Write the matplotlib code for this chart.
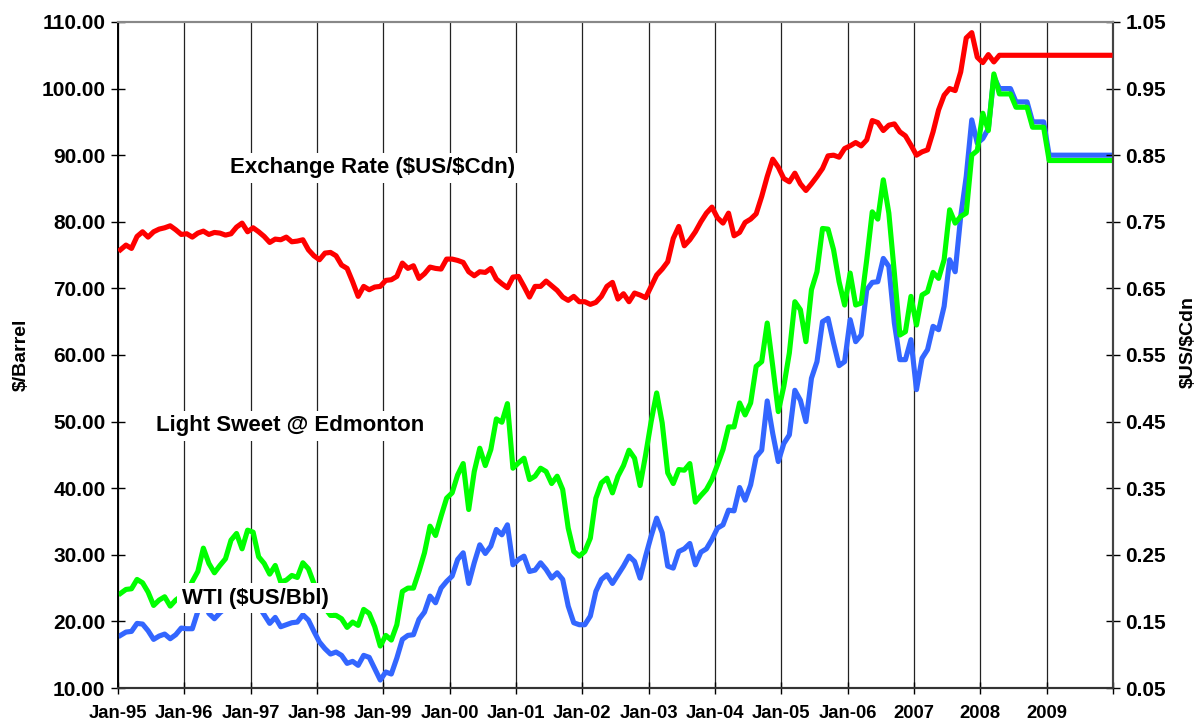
import matplotlib
matplotlib.use("Agg")
import matplotlib.pyplot as plt
import numpy as np

plt.rcParams['font.family'] = ['Liberation Sans', 'DejaVu Sans']
plt.rcParams['font.weight'] = 'bold'

# monthly values, Jan-95 .. Dec-09 (2008-2009 are quarterly forecast steps)
wti = [
    17.9, 18.4, 18.5, 19.7, 19.6, 18.6, 17.3, 17.8, 18.1, 17.4, 18.0, 19.0,   # 1995
    18.9, 18.9, 21.5, 23.5, 21.2, 20.4, 21.3, 22.0, 23.8, 24.8, 23.6, 25.0,   # 1996
    25.1, 22.3, 21.0, 19.7, 20.6, 19.2, 19.5, 19.8, 19.9, 21.0, 20.2, 18.5,   # 1997
    16.9, 15.9, 15.1, 15.4, 14.9, 13.7, 14.0, 13.4, 14.9, 14.6, 12.9, 11.2,   # 1998
    12.4, 12.1, 14.5, 17.3, 17.9, 18.0, 20.3, 21.4, 23.8, 22.8, 25.0, 26.0,   # 1999
    26.8, 29.3, 30.3, 25.7, 28.8, 31.5, 30.2, 31.3, 33.8, 33.0, 34.5, 28.5,   # 2000
    29.3, 29.8, 27.5, 27.7, 28.8, 27.8, 26.5, 27.3, 26.3, 22.3, 19.8, 19.5,   # 2001
    19.5, 20.8, 24.5, 26.3, 27.0, 25.7, 27.0, 28.3, 29.8, 29.0, 26.5, 29.8,   # 2002
    32.8, 35.5, 33.3, 28.3, 28.0, 30.5, 30.9, 31.7, 28.5, 30.4, 30.9, 32.3,   # 2003
    34.0, 34.5, 36.7, 36.6, 40.1, 38.2, 40.5, 44.7, 45.7, 53.1, 48.2, 44.0,   # 2004
    46.7, 48.0, 54.7, 53.2, 50.0, 56.5, 59.0, 65.0, 65.5, 61.8, 58.4, 59.0,   # 2005
    65.3, 62.0, 63.0, 69.8, 70.9, 71.0, 74.5, 73.3, 64.8, 59.3, 59.3, 62.3,   # 2006
    54.8, 59.5, 60.8, 64.3, 63.8, 67.3, 74.3, 72.5, 80.8, 86.8, 95.3, 91.8,   # 2007
    92.5, 94.0, 101.8, 100.0, 100.0, 100.0, 98.0, 98.0, 98.0, 95.0, 95.0, 95.0,  # 2008
    90.0, 90.0, 90.0, 90.0, 90.0, 90.0, 90.0, 90.0, 90.0, 90.0, 90.0, 90.0,   # 2009
]

light_sweet = [
    24.2, 24.8, 24.9, 26.3, 25.8, 24.4, 22.4, 23.2, 23.7, 22.3, 23.2, 23.8,   # 1995
    24.2, 26.0, 27.5, 31.0, 28.7, 27.3, 28.4, 29.4, 32.2, 33.2, 30.9, 33.7,   # 1996
    33.4, 29.7, 28.7, 27.1, 28.4, 25.9, 26.2, 26.9, 26.6, 28.8, 27.9, 25.7,   # 1997
    24.0, 22.0, 20.9, 20.9, 20.4, 19.1, 19.9, 19.4, 21.8, 21.2, 19.2, 16.3,   # 1998
    17.9, 17.2, 19.5, 24.5, 25.0, 25.0, 27.5, 30.3, 34.3, 32.9, 35.8, 38.5,   # 1999
    39.3, 42.0, 43.7, 36.8, 42.5, 46.0, 43.4, 45.8, 50.4, 49.9, 52.7, 43.0,   # 2000
    43.8, 44.5, 41.3, 41.8, 43.0, 42.5, 40.7, 41.8, 39.8, 34.0, 30.5, 29.8,   # 2001
    30.5, 32.5, 38.5, 40.8, 41.5, 39.3, 41.8, 43.4, 45.7, 44.5, 40.4, 45.0,   # 2002
    50.0, 54.3, 49.8, 42.3, 40.7, 42.8, 42.7, 43.7, 37.9, 38.9, 39.8, 41.3,   # 2003
    43.5, 45.8, 49.2, 49.2, 52.8, 51.0, 52.8, 58.3, 59.0, 64.8, 58.3, 51.5,   # 2004
    55.3, 60.3, 68.0, 66.8, 62.0, 69.8, 72.5, 79.0, 78.9, 75.8, 71.0, 67.5,   # 2005
    72.3, 67.5, 67.8, 74.3, 81.5, 80.4, 86.3, 81.3, 72.3, 63.0, 63.5, 68.8,   # 2006
    64.5, 69.0, 69.5, 72.4, 71.5, 74.3, 81.8, 79.8, 80.8, 81.3, 90.0, 90.7,   # 2007
    96.3, 93.7, 102.2, 99.2, 99.2, 99.2, 97.2, 97.2, 97.2, 94.2, 94.2, 94.2,  # 2008
    89.2, 89.2, 89.2, 89.2, 89.2, 89.2, 89.2, 89.2, 89.2, 89.2, 89.2, 89.2,   # 2009
]

exchange = [
    0.708, 0.715, 0.710, 0.728, 0.735, 0.727, 0.735, 0.739, 0.741, 0.744, 0.738, 0.731,  # 1995
    0.732, 0.727, 0.733, 0.736, 0.731, 0.734, 0.733, 0.730, 0.732, 0.742, 0.748, 0.735,  # 1996
    0.741, 0.735, 0.728, 0.719, 0.724, 0.723, 0.727, 0.720, 0.721, 0.723, 0.708, 0.699,  # 1997
    0.693, 0.703, 0.704, 0.699, 0.685, 0.680, 0.660, 0.638, 0.653, 0.648, 0.652, 0.653,  # 1998
    0.662, 0.663, 0.668, 0.688, 0.680, 0.684, 0.665, 0.672, 0.682, 0.680, 0.679, 0.694,  # 1999
    0.694, 0.692, 0.689, 0.675, 0.669, 0.675, 0.674, 0.680, 0.664, 0.657, 0.651, 0.667,  # 2000
    0.668, 0.653, 0.637, 0.653, 0.653, 0.661, 0.654, 0.647, 0.637, 0.632, 0.638, 0.630,  # 2001
    0.630, 0.626, 0.629, 0.638, 0.653, 0.659, 0.634, 0.642, 0.630, 0.643, 0.640, 0.636,  # 2002
    0.653, 0.670, 0.679, 0.690, 0.725, 0.743, 0.714, 0.723, 0.735, 0.750, 0.763, 0.772,  # 2003
    0.756, 0.748, 0.763, 0.729, 0.734, 0.749, 0.754, 0.762, 0.788, 0.818, 0.844, 0.832,  # 2004
    0.815, 0.810, 0.823, 0.807, 0.797, 0.807, 0.818, 0.830, 0.849, 0.850, 0.847, 0.860,  # 2005
    0.864, 0.869, 0.864, 0.873, 0.902, 0.899, 0.887, 0.895, 0.897, 0.885, 0.879, 0.865,  # 2006
    0.850, 0.855, 0.858, 0.885, 0.918, 0.940, 0.950, 0.947, 0.975, 1.026, 1.034, 0.997,  # 2007
    0.989, 1.001, 0.990, 1.000, 1.000, 1.000, 1.000, 1.000, 1.000, 1.000, 1.000, 1.000,  # 2008
    1.000, 1.000, 1.000, 1.000, 1.000, 1.000, 1.000, 1.000, 1.000, 1.000, 1.000, 1.000,  # 2009
]

tick_labels = ['Jan-95', 'Jan-96', 'Jan-97', 'Jan-98', 'Jan-99', 'Jan-00', 'Jan-01',
               'Jan-02', 'Jan-03', 'Jan-04', 'Jan-05', 'Jan-06', '2007', '2008', '2009', '']

# points sit at mid-month
months = np.arange(len(wti)) + 0.45

fig = plt.figure(figsize=(12, 7.23), dpi=100)
ax = fig.add_axes([0.0983, 0.0484, 0.8292, 0.9212])
ax2 = ax.twinx()

ax.plot(months, wti, color='#3366FF', lw=3.7, solid_joinstyle='round', zorder=3)
ax.plot(months, light_sweet, color='#00FF00', lw=3.7, solid_joinstyle='round', zorder=4)
ax2.plot(months, exchange, color='#FF0000', lw=3.7, solid_joinstyle='round', zorder=3)

ax.set_xlim(0, 180)
ax.set_ylim(10, 110)
ax2.set_ylim(0.05, 1.05)

ax.set_xticks(np.arange(0, 181, 12))
ax.set_xticklabels(tick_labels)
ax.set_yticks(np.arange(10, 111, 10))
ax.set_yticklabels(['%.2f' % v for v in np.arange(10, 111, 10)])
ax2.set_yticks(np.arange(0.05, 1.06, 0.1))
ax2.set_yticklabels(['%.2f' % v for v in np.arange(0.05, 1.06, 0.1)])

ax.grid(axis='x', color='#222222', lw=0.9)
ax.set_axisbelow(True)

ax.tick_params(axis='y', direction='inout', length=10, width=1, labelsize=15, pad=4)
ax.tick_params(axis='x', direction='inout', length=8, width=1, labelsize=13.3, pad=8)
ax2.tick_params(axis='y', direction='inout', length=10, width=1, labelsize=15, pad=4)

for a in (ax, ax2):
    a.spines['left'].set_color('black')
    a.spines['left'].set_linewidth(1.2)
    a.spines['bottom'].set_color('#333333')
    a.spines['bottom'].set_linewidth(1.5)
    a.spines['right'].set_color('#444444')
    a.spines['right'].set_linewidth(1.5)
    a.spines['top'].set_color('#888888')
    a.spines['top'].set_linewidth(1.5)

ax.set_ylabel(r'\$/Barrel', fontsize=14, fontweight='bold')
ax.yaxis.set_label_coords(-0.0885, 0.5)
ax2.set_ylabel(r'\$US/\$Cdn', fontsize=14, fontweight='bold')
ax2.yaxis.set_label_coords(1.0674, 0.52)

box = dict(facecolor='white', edgecolor='none', pad=3)
ax2.text(0.2563, 0.7808, r'Exchange Rate (\$US/\$Cdn)', transform=ax2.transAxes,
         ha='center', va='center', fontsize=16, fontweight='bold', bbox=box, zorder=10)
ax2.text(0.1729, 0.3934, 'Light Sweet @ Edmonton', transform=ax2.transAxes,
         ha='center', va='center', fontsize=16, fontweight='bold', bbox=box, zorder=10)
ax2.text(0.1377, 0.1351, r'WTI (\$US/Bbl)', transform=ax2.transAxes,
         ha='center', va='center', fontsize=16, fontweight='bold', bbox=box, zorder=10)

plt.savefig('out.png', dpi=100)
